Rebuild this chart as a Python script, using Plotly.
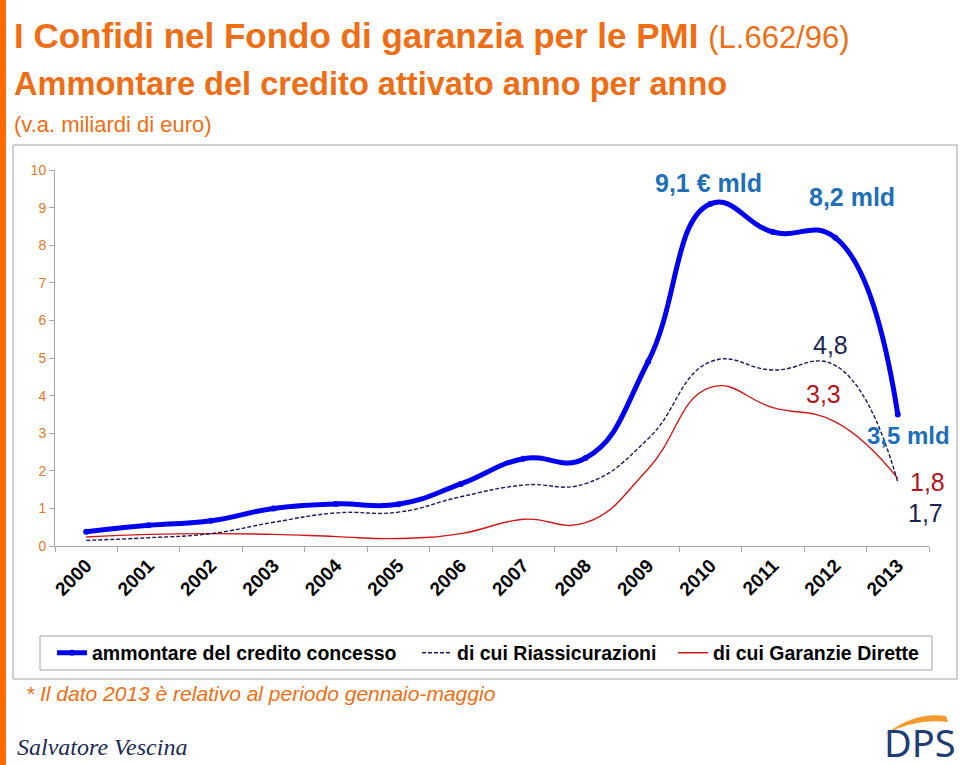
import plotly.graph_objects as go

years = ["2000", "2001", "2002", "2003", "2004", "2005", "2006",
         "2007", "2008", "2009", "2010", "2011", "2012", "2013"]
totale = [0.38, 0.55, 0.67, 1.0, 1.12, 1.11, 1.65, 2.32, 2.34, 4.9, 9.1, 8.35, 8.2, 3.5]
riassicurazioni = [0.15, 0.22, 0.33, 0.63, 0.88, 0.90, 1.31, 1.62, 1.66, 2.85, 4.9, 4.68, 4.8, 1.7]
garanzie_dirette = [0.24, 0.31, 0.33, 0.31, 0.25, 0.20, 0.33, 0.71, 0.62, 2.05, 4.22, 3.68, 3.3, 1.8]

W, H = 960, 765
L, R, T, B = 55, 31, 170, 219
PW, PH = W - L - R, H - T - B


def px(x):
    return (x - L) / PW


def py(y):
    return (H - B - y) / PH


ORANGE = "#EE6E16"
SANS = "Liberation Sans, Arial, sans-serif"
SMOOTH = 1.3

fig = go.Figure()
fig.add_trace(go.Scatter(
    x=years, y=garanzie_dirette, mode="lines", name="di cui Garanzie Dirette",
    line=dict(color="#D01818", width=1.4, shape="spline", smoothing=SMOOTH),
    legend="legend3"))
fig.add_trace(go.Scatter(
    x=years, y=riassicurazioni, mode="lines", name="di cui Riassicurazioni",
    line=dict(color="#1A1A5E", width=1.4, dash="4px,2px", shape="spline", smoothing=SMOOTH),
    legend="legend2"))
fig.add_trace(go.Scatter(
    x=years, y=totale, mode="lines+markers", name="ammontare del credito concesso",
    line=dict(color="#0000F0", width=5, shape="spline", smoothing=SMOOTH),
    marker=dict(color="#0000F0", size=6),
    legend="legend"))

leg_font = dict(family=SANS, size=19.5, color="black", weight="bold")
for name, xp in [("legend", 52), ("legend2", 417), ("legend3", 673)]:
    fig.update_layout({name: dict(x=px(xp), y=py(653), xanchor="left", yanchor="middle",
                                  orientation="h", font=leg_font,
                                  bgcolor="rgba(0,0,0,0)", borderwidth=0)})

ann = []
# titles
ann.append(dict(x=px(12), y=py(35), xanchor="left", yanchor="middle",
                text="<b>I Confidi nel Fondo di garanzia per le PMI</b> <span style='font-size:31px'>(L.662/96)</span>",
                font=dict(family=SANS, size=35, color=ORANGE)))
ann.append(dict(x=px(12), y=py(84), xanchor="left", yanchor="middle",
                text="<b>Ammontare del credito attivato anno per anno</b>",
                font=dict(family=SANS, size=32.6, color=ORANGE)))
ann.append(dict(x=px(12), y=py(125), xanchor="left", yanchor="middle",
                text="(v.a. miliardi di euro)",
                font=dict(family=SANS, size=22, color=ORANGE)))
# data labels
BLUE_LBL = "#1E6FB8"
ann.append(dict(x=px(708), y=py(183), text="<b>9,1 € mld</b>",
                font=dict(family=SANS, size=25, color=BLUE_LBL)))
ann.append(dict(x=px(852), y=py(197), text="<b>8,2 mld</b>",
                font=dict(family=SANS, size=25, color=BLUE_LBL)))
ann.append(dict(x=px(830), y=py(345), text="4,8",
                font=dict(family=SANS, size=25, color="#1A2350")))
ann.append(dict(x=px(823), y=py(394), text="3,3",
                font=dict(family=SANS, size=25, color="#B0161B")))
ann.append(dict(x=px(908), y=py(435), text="<b>3,5 mld</b>",
                font=dict(family=SANS, size=24, color=BLUE_LBL)))
ann.append(dict(x=px(927), y=py(482), text="1,8",
                font=dict(family=SANS, size=25, color="#B0161B")))
ann.append(dict(x=px(925), y=py(513), text="1,7",
                font=dict(family=SANS, size=25, color="#1A2350")))
# footnotes
ann.append(dict(x=px(24), y=py(693), xanchor="left", yanchor="middle",
                text="<i>* Il dato 2013 è relativo al periodo gennaio-maggio</i>",
                font=dict(family=SANS, size=21, color=ORANGE)))
ann.append(dict(x=px(15), y=py(747), xanchor="left", yanchor="middle",
                text="<i>Salvatore Vescina</i>",
                font=dict(family="Liberation Serif, DejaVu Serif, serif", size=24, color="#1C2A55")))
ann.append(dict(x=px(920), y=py(742), xanchor="center", yanchor="middle",
                text="DPS",
                font=dict(family="Noto Sans, sans-serif", size=38, color="#1F3D72")))
for a in ann:
    a.setdefault("xref", "paper")
    a.setdefault("yref", "paper")
    a.setdefault("showarrow", False)
    a.setdefault("xanchor", "center")
    a.setdefault("yanchor", "middle")

shapes = [
    dict(type="rect", xref="paper", yref="paper", x0=px(0), x1=px(6), y0=py(0), y1=py(765),
         fillcolor="#FF6A00", line=dict(width=0), layer="below"),
    dict(type="rect", xref="paper", yref="paper", x0=px(13), x1=px(957), y0=py(145), y1=py(679),
         line=dict(color="#A0A0A0", width=1), layer="below"),
    dict(type="rect", xref="paper", yref="paper", x0=px(40), x1=px(932), y0=py(636), y1=py(670),
         line=dict(color="#A0A0A0", width=1), layer="below"),
    dict(type="path", xref="paper", yref="paper",
         path=f"M {px(884)},{py(735)} Q {px(915)},{py(711)} {px(946)},{py(716)} "
              f"L {px(948)},{py(722)} Q {px(915)},{py(718)} {px(884)},{py(735)} Z",
         fillcolor="#F39A2E", line=dict(width=0)),
]

fig.update_layout(
    width=W, height=H,
    margin=dict(l=L, r=R, t=T, b=B),
    paper_bgcolor="white", plot_bgcolor="white",
    showlegend=True,
    annotations=ann, shapes=shapes,
    xaxis=dict(type="category", range=[-0.5, 13.5], tickangle=-45, tickson="boundaries",
               ticks="outside", ticklen=5, tickcolor="#A6A6A6",
               showline=True, linecolor="#A6A6A6", linewidth=1,
               showgrid=False, zeroline=False,
               tickfont=dict(family=SANS, size=19, color="black", weight="bold")),
    yaxis=dict(range=[0, 10], dtick=1, ticks="outside", ticklen=5, tickcolor="#A6A6A6",
               showline=True, linecolor="#A6A6A6", linewidth=1,
               showgrid=False, zeroline=False,
               tickfont=dict(family=SANS, size=14, color="#E0782A")),
)

fig.write_html("out.html", config={"displayModeBar": False},
               post_script="document.body.style.margin='0';")
